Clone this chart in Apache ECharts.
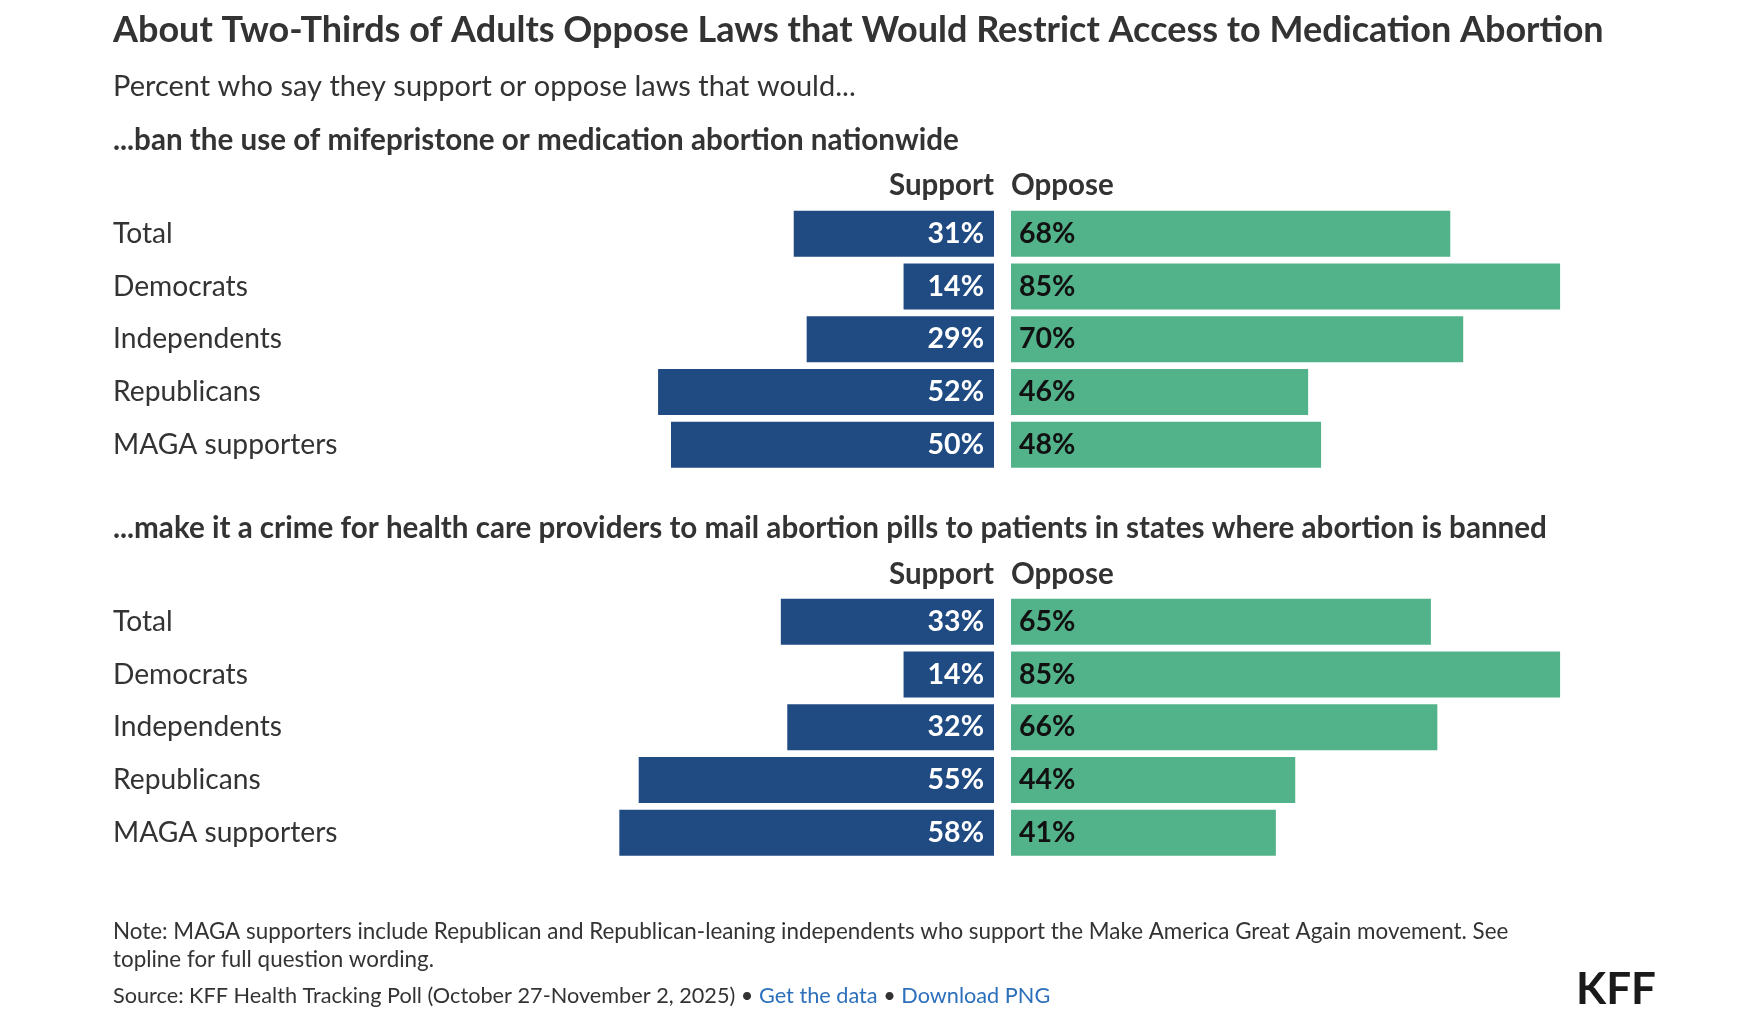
<!DOCTYPE html>
<html>
<head>
<meta charset="utf-8">
<script src="https://cdn.jsdelivr.net/npm/echarts@6/dist/echarts.min.js"></script>
<style>
html,body{margin:0;padding:0;background:#fff;}
#chart{width:1761px;height:1019px;}
</style>
</head>
<body>
<div id="chart"></div>
<script>
const titleText = 'About Two-Thirds of Adults Oppose Laws that Would Restrict Access to Medication Abortion';
const subtitleText = 'Percent who say they support or oppose laws that would...';
const sectionTitles = [
  '...ban the use of mifepristone or medication abortion nationwide',
  '...make it a crime for health care providers to mail abortion pills to patients in states where abortion is banned'
];
const categories = ['Total', 'Democrats', 'Independents', 'Republicans', 'MAGA supporters'];
const seriesNames = ['Support', 'Oppose'];
const support1 = [31, 14, 29, 52, 50];
const oppose1 = [68, 85, 70, 46, 48];
const support2 = [33, 14, 32, 55, 58];
const oppose2 = [65, 85, 66, 44, 41];
const noteLines = [
  'Note: MAGA supporters include Republican and Republican-leaning independents who support the Make America Great Again movement. See',
  'topline for full question wording.'
];
const sourceText = 'Source: KFF Health Tracking Poll (October 27-November 2, 2025)';

const FONT = 'Lato, "Source Sans Pro", sans-serif';
const BLUE = '#1f4a82';
const GREEN = '#52b38b';
const TXT = '#333333';

const chart = echarts.init(document.getElementById('chart'), null, {renderer: 'canvas'});

const L_LEFT = 348, AX_W = 646, R_LEFT = 1011;
const tops = [207.4, 595.4];
const GH = 263.75;

function grids() {
  const g = [];
  tops.forEach(t => {
    g.push({left: L_LEFT, top: t, width: AX_W, height: GH});
    g.push({left: R_LEFT, top: t, width: AX_W, height: GH});
  });
  return g;
}

const xAxes = [0, 1, 2, 3].map(i => ({
  gridIndex: i, type: 'value', min: 0, max: 100, inverse: i % 2 === 0, show: false
}));
const yAxes = [0, 1, 2, 3].map(i => ({
  gridIndex: i, type: 'category', data: categories, inverse: true,
  show: i % 2 === 0,
  axisLine: {show: false, onZero: false}, axisTick: {show: false}, splitLine: {show: false},
  axisLabel: {show: i % 2 === 0, align: 'left', margin: L_LEFT - 113, fontSize: 28.2,
    fontFamily: FONT, color: TXT}
}));

function barSeries(name, data, idx, isSupport) {
  return {
    name: name, type: 'bar', data: data, xAxisIndex: idx, yAxisIndex: idx,
    barWidth: 46, silent: true,
    itemStyle: {color: isSupport ? BLUE : GREEN},
    label: {
      show: true, position: isSupport ? 'insideRight' : 'insideLeft',
      distance: isSupport ? 10 : 8,
      formatter: '{c}%', fontSize: 28.5, fontWeight: 'bold', fontFamily: FONT,
      color: isSupport ? '#ffffff' : '#111111'
    }
  };
}

function txt(text, x, y, size, weight, color, align) {
  return {type: 'text', x: x, y: y, silent: true,
    style: {text: text, fontSize: size, fontWeight: weight, fontFamily: FONT,
      fill: color, align: align || 'left', verticalAlign: 'middle'}};
}

const graphics = [
  txt(titleText, 113, 30, 36, 'bold', TXT),
  txt(subtitleText, 113, 87, 29, 'normal', TXT),
  txt(sectionTitles[0], 113, 140, 29.6, 'bold', TXT),
  txt(seriesNames[0], 994, 185, 29.5, 'bold', TXT, 'right'),
  txt(seriesNames[1], 1011, 185, 29.5, 'bold', TXT),
  txt(sectionTitles[1], 113, 528, 29.6, 'bold', TXT),
  txt(seriesNames[0], 994, 574, 29.5, 'bold', TXT, 'right'),
  txt(seriesNames[1], 1011, 574, 29.5, 'bold', TXT),
  txt(noteLines[0], 113, 932, 22.4, 'normal', TXT),
  txt(noteLines[1], 113, 960, 22.4, 'normal', TXT),
  {type: 'text', x: 113, y: 996, silent: true,
    style: {
      text: sourceText + ' • {a|Get the data} • {a|Download PNG}',
      fontSize: 21.7, fontFamily: FONT, fill: TXT, verticalAlign: 'middle',
      rich: {a: {fontSize: 21.7, fontFamily: FONT, fill: '#2c6fbb', color: '#2c6fbb'}}
    }},
  txt('KFF', 1656, 990, 44, 'bold', '#1a1a1a', 'right')
];

chart.setOption({
  animation: false,
  grid: grids(),
  xAxis: xAxes,
  yAxis: yAxes,
  series: [
    barSeries(seriesNames[0], support1, 0, true),
    barSeries(seriesNames[1], oppose1, 1, false),
    barSeries(seriesNames[0], support2, 2, true),
    barSeries(seriesNames[1], oppose2, 3, false)
  ],
  graphic: graphics
});
</script>
</body>
</html>
